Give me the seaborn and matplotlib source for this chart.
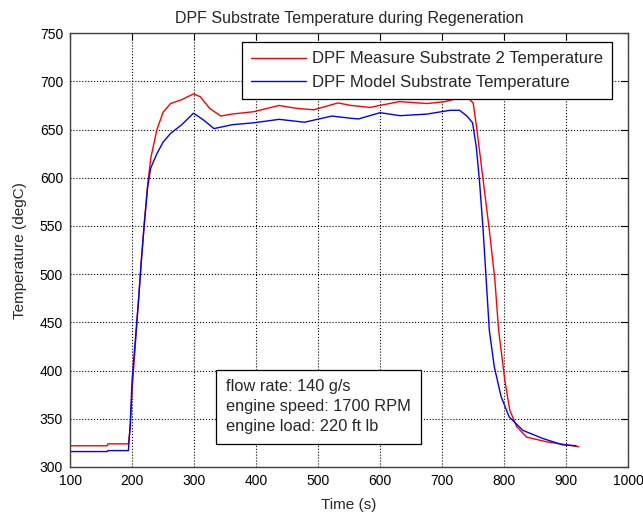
import numpy as np
import pandas as pd
import matplotlib
matplotlib.use('Agg')
import matplotlib.pyplot as plt
import seaborn as sns

# values
meas_time = [100, 160, 161, 194, 197, 200, 205, 210, 215, 220, 225, 230, 240, 250, 262,
             280, 299, 310, 325, 343, 360, 396, 437, 465, 493, 532, 553, 584, 631,
             676, 705, 729, 742, 750, 756, 766, 776, 785, 791, 801, 809, 820, 836,
             869, 901, 920]
meas_temp = [322, 322, 324, 324, 340, 380, 425, 470, 515, 555, 592, 620, 650, 668, 677,
             681, 687, 684, 672, 664, 666, 668.5, 675, 672, 670.5, 677.6, 675, 673, 679,
             677, 679, 683, 682.5, 677.6, 650, 598, 546, 494, 442, 390, 359, 342, 331,
             326, 323, 321]

model_time = [100, 160, 161, 194, 197, 200, 205, 210, 215, 220, 225, 230, 240, 250, 262,
              280, 299, 315, 332, 361, 396, 437, 478, 522, 553, 565, 600, 632, 675,
              713, 728, 740, 749, 755, 760, 766, 771, 776, 784, 795, 808, 830, 862,
              894, 916]
model_temp = [316, 316, 317, 317, 345, 390, 430, 470, 515, 555, 590, 610, 625, 637, 646,
              655, 667, 660, 651, 655, 657, 660.6, 657.6, 664, 661.7, 661, 667.5, 664.4, 666,
              670, 670, 664, 657, 632, 598, 546, 494, 442, 404, 373, 352, 338, 329.6,
              323, 322]

series_names = ['DPF Measure Substrate 2 Temperature', 'DPF Model Substrate Temperature']
info_lines = ['flow rate: 140 g/s', 'engine speed: 1700 RPM', 'engine load: 220 ft lb']

df = pd.concat([
    pd.DataFrame({'Time': meas_time, 'Temp': meas_temp, 'Series': series_names[0]}),
    pd.DataFrame({'Time': model_time, 'Temp': model_temp, 'Series': series_names[1]}),
])

sns.set_style('white')
plt.rcParams['font.family'] = ['Liberation Sans', 'DejaVu Sans']

fig = plt.figure(figsize=(6.43, 5.18), dpi=100)
ax = fig.add_axes([0.109, 0.0985, 0.868, 0.8375])

sns.lineplot(data=df, x='Time', y='Temp', hue='Series', sort=False,
             palette=['#ff0000', '#0000ff'], linewidth=1.0, ax=ax, legend=True)

ax.set_xlim(100, 1000)
ax.set_ylim(300, 750)
ax.set_xticks(np.arange(100, 1001, 100))
ax.set_yticks(np.arange(300, 751, 50))
ax.grid(True, linestyle=':', color='black', linewidth=0.8)
ax.tick_params(direction='in', top=True, right=True, length=5, labelsize=10,
               colors='black', pad=5)
for s in ax.spines.values():
    s.set_color('#404040')
    s.set_linewidth(1.0)

ax.set_xlabel('Time (s)', fontsize=11, labelpad=7)
ax.set_ylabel('Temperature (degC)', fontsize=11, labelpad=9)
ax.set_title('DPF Substrate Temperature during Regeneration', fontsize=11.5, pad=7)

leg = ax.legend(loc='upper right', bbox_to_anchor=(0.9713, 0.979), fontsize=12,
                frameon=True, fancybox=False, framealpha=1, edgecolor='black',
                handlelength=3.3, borderaxespad=0, borderpad=0.55,
                handletextpad=0.35, labelspacing=0.5)
leg.get_frame().set_linewidth(0.9)

ax.text(0.2796, 0.076, '\n'.join(info_lines), transform=ax.transAxes, fontsize=11.8,
        va='bottom', ha='left', linespacing=1.4,
        bbox=dict(boxstyle='square,pad=0.6', facecolor='white', edgecolor='black',
                  linewidth=0.9))

fig.savefig('out.png', dpi=100)
